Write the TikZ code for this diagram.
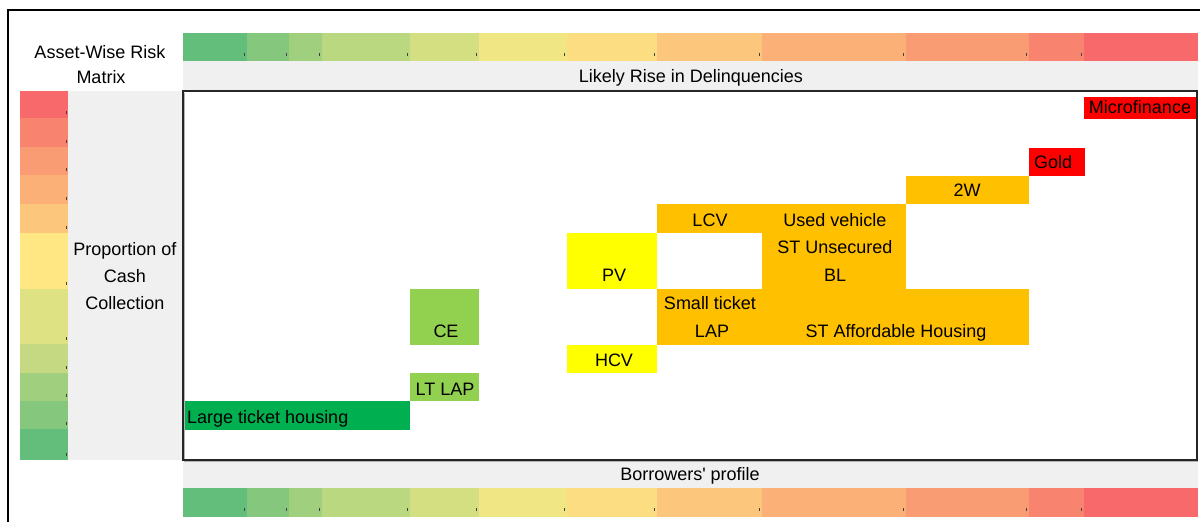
\documentclass[tikz,border=0pt]{standalone}
\usepackage{fontspec}
\setmainfont{Liberation Sans}
% plain family without TeX ligature mapping, so ' stays a straight quote
\newfontfamily\labelfont{Liberation Sans}
\definecolor{sA}{HTML}{63BE7B}
\definecolor{sB}{HTML}{85C77C}
\definecolor{sC}{HTML}{A0D07E}
\definecolor{sD}{HTML}{BAD880}
\definecolor{sE}{HTML}{D4DF82}
\definecolor{sF}{HTML}{F0E683}
\definecolor{sG}{HTML}{FDDD81}
\definecolor{sH}{HTML}{FCC67C}
\definecolor{sI}{HTML}{FAB077}
\definecolor{sJ}{HTML}{F99B73}
\definecolor{sK}{HTML}{F8846F}
\definecolor{sL}{HTML}{F8696B}
\definecolor{vY}{HTML}{FFE884}
\definecolor{vYG}{HTML}{DFE283}
\definecolor{vLG}{HTML}{C4D981}
\definecolor{band}{HTML}{F0F0F0}
\definecolor{amber}{HTML}{FFC000}
\definecolor{lime}{HTML}{92D050}
\definecolor{deepgreen}{HTML}{00B050}
\definecolor{brightred}{HTML}{FF0000}
\definecolor{brightyellow}{HTML}{FFFF00}
\begin{document}
\begin{tikzpicture}[x=1pt,y=-1pt,
  txt/.style={font=\labelfont\fontsize{18}{21}\selectfont, inner sep=0pt, anchor=base, text=black},
  txtw/.style={txt, anchor=base west},
  tick/.style={fill=black!75}]
\useasboundingbox (0,0) rectangle (1200,522);

% outer frame (runs off the page on the right and bottom)
\draw[line width=2pt] (8,522) -- (8,10) -- (1200,10);

% grey label bands
\fill[band] (183,61) rectangle (1198,91);
\fill[band] (183,460) rectangle (1198,488);
\fill[band] (68,91) rectangle (183,460);

% horizontal colour scales (top and bottom)
\foreach \a/\b/\c in {183/247/sA,247/289/sB,289/322/sC,322/410/sD,410/479/sE,479/567/sF,
                      567/657/sG,657/762/sH,762/906/sI,906/1029/sJ,1029/1084/sK,1084/1198/sL}{
  \fill[\c] (\a,33) rectangle (\b,61);
  \fill[\c] (\a,488) rectangle (\b,517);
}
\foreach \b in {247,289,322,410,479,567,657,762,906,1029,1084}{
  \fill[tick] (\b-2.8,53) rectangle (\b-1.6,55.5);
  \fill[tick] (\b-2.8,508) rectangle (\b-1.6,510.5);
}

% vertical colour scale
\foreach \a/\b/\c in {91/118/sL,118/147/sK,147/175/sJ,175/204/sI,204/233/sH,233/289/vY,
                      289/344/vYG,344/373/vLG,373/401/sC,401/429/sB,429/460/sA}{
  \fill[\c] (20,\a) rectangle (68,\b);
  \fill[tick] (66,\b-7) rectangle (67.2,\b-4.5);
}

% asset blocks
\fill[brightred] (1084,97) rectangle (1196,119);
\fill[brightred] (1029,148) rectangle (1085,176);
\fill[amber] (906,176) rectangle (1029,204);
\fill[amber] (657,204) rectangle (906,233);
\fill[amber] (762,233) rectangle (906,289);
\fill[amber] (657,289) rectangle (1029,345);
\fill[brightyellow] (567,233) rectangle (657,289);
\fill[brightyellow] (567,345) rectangle (657,373);
\fill[lime] (410,289) rectangle (479,345);
\fill[lime] (410,373) rectangle (479,401);
\fill[deepgreen] (183,401) rectangle (410,430);

% matrix frame with a faint shadow edge
\draw[line width=1pt, black!30] (184,93) -- (184,461) -- (1198,461);
\draw[line width=2pt, black!85] (183,91) rectangle (1197,459.5);

% headings
\node[txt] (title1) at (100,58) {Asset-Wise Risk};
\node[txt] (title2) at (101,83) {Matrix};
\node[txt] (xhead) at (691,82) {Likely Rise in Delinquencies};
\node[txt] (xfoot) at (690,480) {Borrowers' profile};
\node[txt] (yhead1) at (125,255) {Proportion of};
\node[txt] (yhead2) at (125,282) {Cash};
\node[txt] (yhead3) at (125,309) {Collection};

% asset labels
\node[txt] (mfi) at (1140,113) {Microfinance};
\node[txtw] (gold) at (1034,168) {Gold};
\node[txt] (tw) at (967,196) {2W};
\node[txt] (lcv) at (710,226) {LCV};
\node[txt] (uv1) at (835,226) {Used vehicle};
\node[txt] (uv2) at (835,253) {ST Unsecured};
\node[txt] (uv3) at (835,281) {BL};
\node[txt] (pv) at (614,281) {PV};
\node[txt] (stl1) at (710,309) {Small ticket};
\node[txt] (stl2) at (712,337) {LAP};
\node[txt] (sah) at (896,337) {ST Affordable Housing};
\node[txt] (ce) at (446,337) {CE};
\node[txt] (hcv) at (614,366) {HCV};
\node[txt] (ltlap) at (445,395) {LT LAP};
\node[txtw] (lth) at (187,423) {Large ticket housing};
\end{tikzpicture}
\end{document}
